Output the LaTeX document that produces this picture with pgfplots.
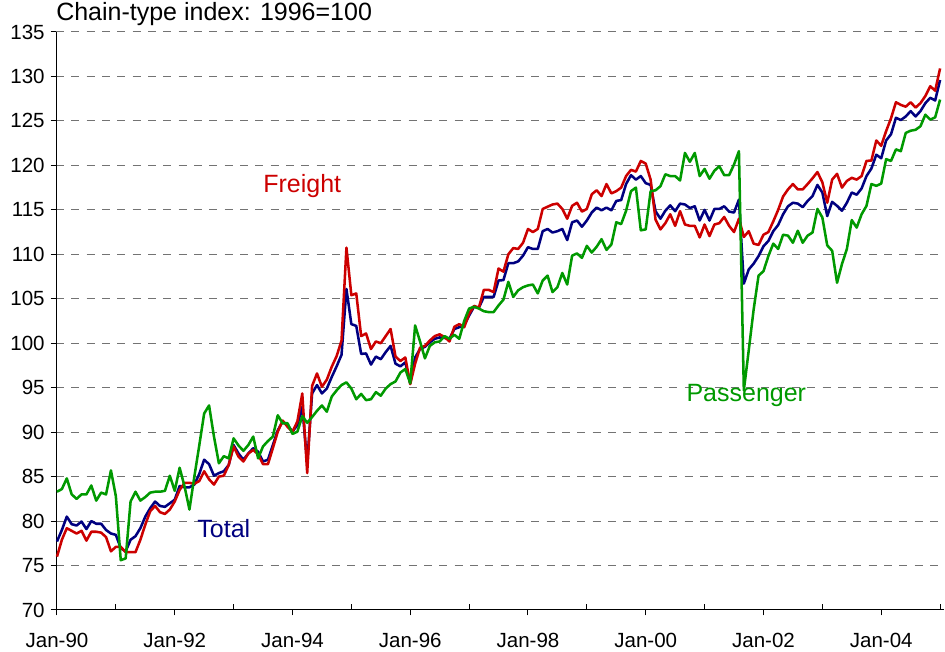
\documentclass[border=0pt]{standalone}
\usepackage{pgfplots}
\pgfplotsset{compat=1.18}
\usepackage{pgfplotstable}
\usepackage{fontspec}
\setmainfont{Liberation Sans}
\definecolor{frred}{RGB}{204,0,0}
\definecolor{totnavy}{RGB}{0,0,128}
\definecolor{pasgreen}{RGB}{0,153,0}

% month index (0 = Jan-90), total, freight, passenger
\pgfplotstableread{
m tot fr pas
0 77.7 76.0 83.3
1 79.0 77.9 83.6
2 80.5 79.2 84.8
3 79.65 78.9 83.0
4 79.5 78.6 82.5
5 79.95 78.9 83.0
6 79.1 77.8 83.0
7 80.0 78.8 84.0
8 79.7 78.8 82.3
9 79.7 78.7 83.2
10 79.0 78.2 83.0
11 78.6 76.6 85.7
12 78.45 77.1 82.8
13 76.95 77.1 75.6
14 76.6 76.5 75.8
15 77.9 76.5 82.2
16 78.3 76.5 83.3
17 79.2 77.9 82.3
18 80.5 79.6 82.7
19 81.45 81.1 83.2
20 82.2 81.7 83.3
21 81.7 81.0 83.3
22 81.6 80.8 83.4
23 82.0 81.3 85.1
24 82.4 82.2 83.4
25 83.95 83.5 86.0
26 83.8 84.3 83.9
27 83.8 84.3 81.3
28 84.1 84.2 85.0
29 85.3 84.5 88.5
30 86.9 85.6 92.1
31 86.4 84.7 93.0
32 85.1 84.1 89.5
33 85.4 85.0 86.5
34 85.6 85.1 87.3
35 86.3 86.3 87.05
36 88.55 88.4 89.3
37 87.6 87.25 88.5
38 86.9 86.7 87.9
39 87.6 87.6 88.55
40 88.2 88.0 89.5
41 87.8 87.5 87.05
42 86.7 86.4 88.4
43 86.9 86.4 89.0
44 88.55 88.2 89.5
45 90.2 90.05 91.9
46 91.2 91.3 91.0
47 90.8 90.6 91.0
48 90.05 90.05 89.8
49 90.8 91.2 90.05
50 92.85 94.35 91.8
51 86.5 85.4 91.05
52 94.35 95.2 91.7
53 95.3 96.6 92.4
54 94.35 95.1 93.0
55 94.9 95.9 92.3
56 96.2 97.35 94.0
57 97.4 98.55 94.7
58 98.7 100.3 95.3
59 106.1 110.75 95.6
60 102.15 105.4 94.9
61 101.95 105.6 93.7
62 98.8 100.8 94.3
63 98.85 101.1 93.6
64 97.6 99.35 93.7
65 98.5 100.2 94.5
66 98.2 100.0 94.1
67 99.0 100.8 94.9
68 99.7 101.6 95.4
69 97.7 98.5 95.7
70 97.4 98.0 96.7
71 97.85 98.4 97.1
72 95.5 95.4 95.5
73 98.4 97.7 102.0
74 99.35 99.5 100.2
75 99.6 99.7 98.3
76 100.1 100.3 99.7
77 100.5 100.8 100.1
78 100.65 101.0 100.2
79 100.6 100.7 100.8
80 100.5 100.2 100.5
81 101.6 101.85 100.95
82 101.8 102.15 100.5
83 102.0 101.8 102.5
84 103.1 103.3 103.9
85 104.1 104.2 104.1
86 104.0 104.0 103.9
87 105.2 106.0 103.6
88 105.2 106.0 103.5
89 105.2 105.75 103.5
90 107.05 108.4 104.25
91 107.1 108.05 104.9
92 109.0 110.0 106.9
93 109.0 110.7 105.2
94 109.2 110.6 105.95
95 109.85 111.3 106.3
96 110.8 112.85 106.5
97 110.6 112.5 106.6
98 110.6 112.85 105.6
99 112.6 115.1 107.05
100 112.85 115.35 107.6
101 112.45 115.6 105.75
102 112.6 115.7 106.3
103 112.85 115.1 107.9
104 111.6 114.0 106.6
105 113.6 115.45 109.85
106 113.8 115.8 110.1
107 113.1 114.8 109.6
108 113.8 115.1 110.95
109 114.7 116.75 110.2
110 115.25 117.2 110.85
111 114.95 116.55 111.7
112 115.25 117.9 110.5
113 114.95 116.85 111.1
114 116.0 117.1 113.6
115 116.1 117.5 113.4
116 117.9 118.8 114.9
117 118.9 119.5 117.1
118 118.4 119.3 117.5
119 118.8 120.5 112.7
120 118.0 120.2 112.8
121 117.8 118.4 117.1
122 114.85 113.9 117.2
123 114.0 112.8 117.65
124 114.9 113.5 119.0
125 115.5 114.5 118.8
126 114.85 113.2 118.8
127 115.7 114.85 118.3
128 115.6 113.35 121.4
129 115.2 113.2 120.4
130 115.4 113.2 121.4
131 113.8 111.9 118.8
132 115.0 113.35 119.6
133 113.8 112.05 118.5
134 115.1 113.35 119.4
135 115.1 113.5 119.9
136 115.4 114.2 118.9
137 114.8 113.2 118.9
138 114.7 112.5 120.1
139 116.15 114.0 121.6
140 106.7 111.95 94.7
141 108.3 112.6 99.2
142 108.95 111.2 103.8
143 109.8 111.05 107.6
144 110.9 112.2 108.1
145 111.5 112.5 109.8
146 112.6 113.7 111.2
147 113.3 115.0 110.6
148 114.5 116.5 112.2
149 115.4 117.3 112.1
150 115.8 117.9 111.3
151 115.7 117.3 112.65
152 115.3 117.3 111.3
153 116.0 117.9 112.1
154 116.55 118.55 112.45
155 117.8 119.25 115.1
156 116.95 118.1 114.15
157 114.3 115.8 111.0
158 115.9 118.4 110.4
159 115.45 119.05 106.8
160 114.9 117.5 108.9
161 115.8 118.25 110.6
162 116.95 118.6 113.85
163 116.7 118.4 113.0
164 117.4 118.8 114.5
165 118.8 120.5 115.45
166 119.65 120.55 117.9
167 121.2 122.8 117.7
168 120.8 122.2 117.95
169 122.8 123.85 120.7
170 123.5 125.3 120.5
171 125.35 127.1 121.8
172 125.1 126.8 121.6
173 125.5 126.6 123.65
174 126.1 127.1 123.9
175 125.5 126.5 124.0
176 126.1 127.0 124.4
177 127.0 127.8 125.7
178 127.6 128.9 125.15
179 127.3 128.4 125.4
180 129.6 130.9 127.4
}\datatable

\begin{document}
\begin{tikzpicture}
\begin{axis}[
  at={(0,0)}, anchor=south west,
  scale only axis,
  width=666pt, height=433.5pt,
  xmin=-0.2, xmax=180.8,
  ymin=70, ymax=135,
  axis lines*=left,
  axis line style={black, line width=0.75pt},
  xtick={0,24,...,168},
  xticklabels={Jan-90,Jan-92,Jan-94,Jan-96,Jan-98,Jan-00,Jan-02,Jan-04},
  extra x ticks={12,36,...,180},
  extra x tick labels={},
  extra x tick style={tick align=inside, major tick length=4.25pt},
  ytick={70,75,...,135},
  tick align=outside,
  major tick length=4pt,
  tick style={black, line width=0.75pt},
  ymajorgrids,
  grid style={black!55, line width=0.75pt, dash pattern=on 6pt off 5.5pt},
  ticklabel style={font=\fontsize{15.4pt}{18pt}\selectfont},
  /pgf/number format/assume math mode=true,
  xticklabel style={yshift=-9.5pt},
  yticklabel style={xshift=-1pt},
  clip=false,
]
\addplot[totnavy, line width=1.9pt, line join=round] table[x=m, y=tot] {\datatable};
\addplot[frred, line width=1.9pt, line join=round] table[x=m, y=fr] {\datatable};
\addplot[pasgreen, line width=1.9pt, line join=round] table[x=m, y=pas] {\datatable};
\node[frred, font=\fontsize{18.75pt}{22pt}\selectfont] at (axis cs:50,117.7) {Freight};
\node[totnavy, font=\fontsize{18.75pt}{22pt}\selectfont] at (axis cs:34,79.2) {Total};
\node[pasgreen, font=\fontsize{18.75pt}{22pt}\selectfont] at (axis cs:140.5,94.1) {Passenger};
\node[anchor=base west, inner sep=0pt, font=\fontsize{18.75pt}{22pt}\selectfont] at ([yshift=8.5pt]rel axis cs:0,1) {Chain-type index: 1996=100};
\end{axis}
\pgfresetboundingbox
\useasboundingbox (-42pt,-31.5pt) rectangle (666.75pt,457.5pt);
\end{tikzpicture}
\end{document}
